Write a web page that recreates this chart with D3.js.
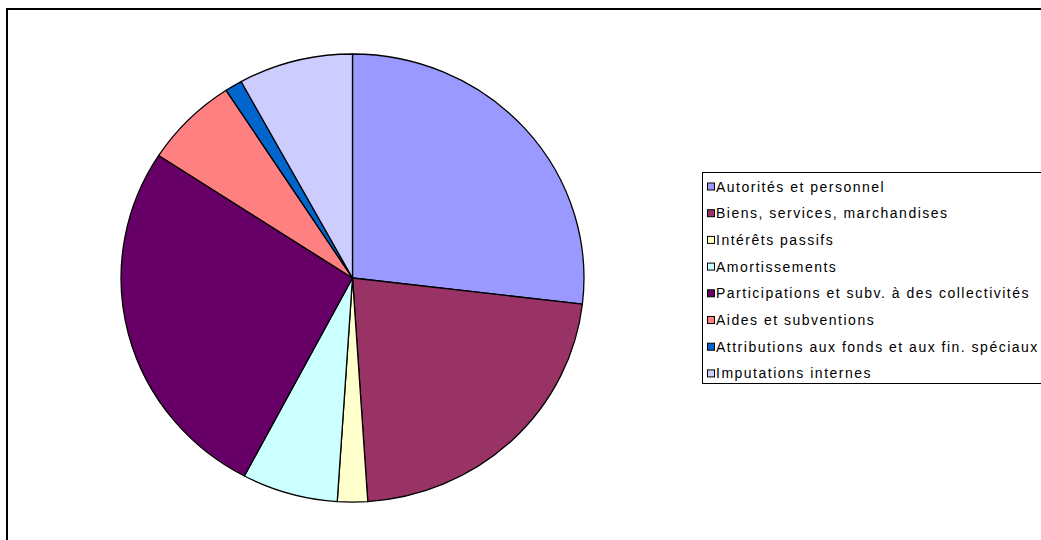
<!DOCTYPE html>
<html><head><meta charset="utf-8">
<script src="https://cdn.jsdelivr.net/npm/d3@7"></script>
<style>body{margin:0;background:#fff}svg{display:block}</style>
</head><body>
<svg id="c" width="1041" height="540"></svg>
<script>
const categories = ["Autorités et personnel","Biens, services, marchandises","Intérêts passifs","Amortissements","Participations et subv. à des collectivités","Aides et subventions","Attributions aux fonds et aux fin. spéciaux","Imputations internes"];
const values = [26.9, 22.1, 2.1, 6.7, 26.5, 6.6, 1.2, 8.0];
const colors = ["#9999FF","#993366","#FFFFCC","#CCFFFF","#660066","#FF8080","#0066CC","#CCCCFF"];

const svg = d3.select("#c");
svg.append("rect").attr("x",7).attr("y",9).attr("width",1100).attr("height",600)
  .attr("fill","#fff").attr("stroke","#000").attr("stroke-width",2);

const cx = 352.5, cy = 278, rx = 231.5, ry = 224;
const pie = d3.pie().sort(null).value(d=>d);
const arc = d3.arc().innerRadius(0).outerRadius(1);
const g = svg.append("g").attr("transform",`translate(${cx},${cy}) scale(${rx},${ry})`);
g.selectAll("path").data(pie(values)).join("path")
  .attr("d", arc).attr("fill",(d,i)=>colors[i])
  .attr("stroke","#000").attr("stroke-width",1.3).attr("vector-effect","non-scaling-stroke")
  .attr("stroke-linejoin","round");

const lg = svg.append("g");
lg.append("rect").attr("x",702.5).attr("y",172.5).attr("width",400).attr("height",211)
  .attr("fill","#fff").attr("stroke","#000").attr("stroke-width",1);
const y0 = 186.5, dy = 26.7;
const items = lg.selectAll("g.it").data(categories).join("g").attr("class","it")
  .attr("transform",(d,i)=>`translate(0,${y0+i*dy})`);
items.append("rect").attr("x",707.5).attr("y",-3.5).attr("width",7).attr("height",7)
  .attr("fill",(d,i)=>colors[i]).attr("stroke","#000").attr("stroke-width",1);
items.append("text").attr("x",716).attr("y",0).attr("dy","0.36em")
  .attr("font-family","Liberation Sans, Arial, sans-serif").attr("font-size",14)
  .attr("letter-spacing","1.5px")
  .attr("fill","#000").text(d=>d);
</script>
</body></html>
